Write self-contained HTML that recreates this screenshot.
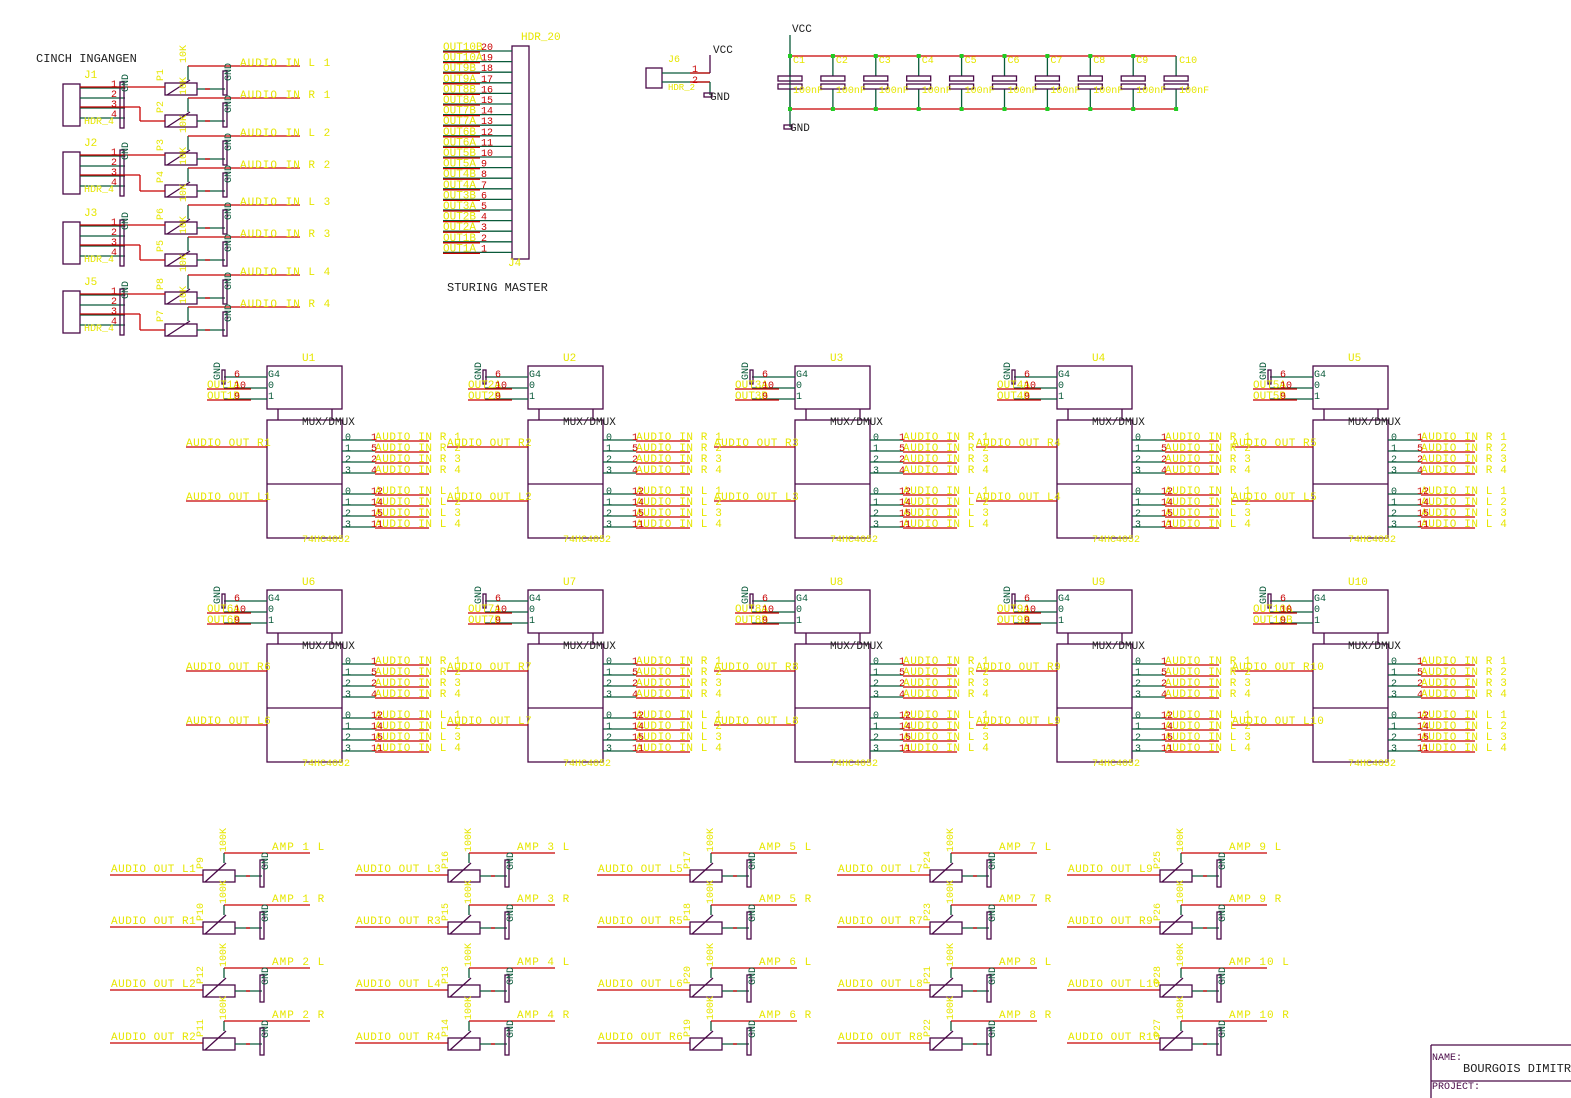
<!DOCTYPE html>
<html><head><meta charset="utf-8">
<style>
html,body{margin:0;padding:0;background:#fff;}
svg{display:block;}
text{font-family:"Liberation Mono","DejaVu Sans Mono",monospace;}
</style></head>
<body>
<svg id="s" width="1571" height="1098" viewBox="0 0 1571 1098" xmlns="http://www.w3.org/2000/svg">
<g id="g" fill="none" stroke-width="1.3"></g>
<g id="t"></g>
</svg>
<script>
var G=document.getElementById('g'),T=document.getElementById('t'),NS='http://www.w3.org/2000/svg';
var P='#4a0a48',R='#c80000',N='#0a5a3a',Y='#e6e600',K='#202020';
function L(x1,y1,x2,y2,c){var e=document.createElementNS(NS,'line');e.setAttribute('x1',x1);e.setAttribute('y1',y1);e.setAttribute('x2',x2);e.setAttribute('y2',y2);e.setAttribute('stroke',c);G.appendChild(e);}
function B(x,y,w,h,c,f){var e=document.createElementNS(NS,'rect');e.setAttribute('x',x);e.setAttribute('y',y);e.setAttribute('width',w);e.setAttribute('height',h);e.setAttribute('stroke',c);if(f)e.setAttribute('fill',f);G.appendChild(e);}
function X(x,y,s,c,sz,rot,ls){var e=document.createElementNS(NS,'text');e.setAttribute('x',x);e.setAttribute('y',y);e.setAttribute('fill',c);e.setAttribute('font-size',sz||11);if(ls)e.setAttribute('letter-spacing',ls);if(rot)e.setAttribute('transform','rotate(-90 '+x+' '+y+')');e.textContent=s;T.appendChild(e);}
function D(x,y,c){var e=document.createElementNS(NS,'rect');e.setAttribute('x',x-2);e.setAttribute('y',y-2);e.setAttribute('width',4);e.setAttribute('height',4);e.setAttribute('fill',c);G.appendChild(e);}
function gnd(x,y1,y2){B(x-2,y1,4,y2-y1,P);X(x+6,y1+10,'GND',N,10,true);}

X(36,62,'CINCH INGANGEN',K,12);
X(447,291,'STURING MASTER',K,12);

var jy=[84,152,222,291],jn=['J1','J2','J3','J5'];
var potY=[83,115,153,185,222,254,292,324],potN=['P1','P2','P3','P4','P6','P5','P8','P7'];
for(var i=0;i<4;i++){var y=jy[i];
 B(63,y,17,42,P);X(84,y-6,jn[i],Y,11);
 for(var k=0;k<4;k++){var py=y+4+k*10;L(80,py,125,py,N);X(111,py-1,''+(k+1),R,10);}
 X(84,y+40,'HDR_4',Y,10);
 gnd(122,y-2,y+44);
}
for(var i=0;i<8;i++){var y=potY[i],j=Math.floor(i/2),jy0=jy[j];
 B(165,y,32,12,P);L(167,y+12,190,y-3,P);L(188,y-3,188,y-17,N);L(188,y-17,300,y-17,R);
 L(197,y+6,225,y+6,N);L(205,y+6,210,y+6,R);gnd(225,y-12,y+12);
 X(163,y-2,potN[i],Y,10,true);X(186,y-20,'10K',Y,10,true);
 var lab=['AUDIO IN L ','AUDIO IN R '][i%2]+(j+1);X(240,y-17,lab,Y,11,false,'1');
 var sy=(i%2==0)?jy0+3:jy0+23;
 if(i%2==0){L(80,sy,165,sy,R);}else{L(80,sy,140,sy,R);L(140,sy,140,y+6,R);L(140,y+6,165,y+6,R);}
}

B(512,46,17,213,P);X(521,40,'HDR_20',Y,11);X(508,266,'J4',Y,11);
for(var k=0;k<20;k++){var y=49+k*10.6;L(443,y+2,512,y+2,N);L(443,y+3,480,y+3,R);
 var nm=['OUT10B','OUT10A','OUT9B','OUT9A','OUT8B','OUT8A','OUT7B','OUT7A','OUT6B','OUT6A','OUT5B','OUT5A','OUT4B','OUT4A','OUT3B','OUT3A','OUT2B','OUT2A','OUT1B','OUT1A'][k];
 X(443,y+1,nm,Y,11);X(481,y+1,''+(20-k),R,10);}

B(646,68,16,20,P);X(668,62,'J6',Y,10);X(668,90,'HDR_2',Y,9);
L(662,73,710,73,N);L(690,73,710,73,R);L(710,73,710,55,P);X(713,53,'VCC',K,11);
L(662,82,710,82,N);L(690,82,710,82,R);L(710,82,710,95,N);B(704,93,8,4,P);X(710,100,'GND',K,11);X(692,72,'1',R,10);X(692,83,'2',R,10);

L(790,35,790,127,N);X(792,32,'VCC',K,11);B(784,125,8,4,P);X(790,131,'GND',K,11);
L(790,56,1176,56,R);L(790,109,1176,109,R);
for(var c=0;c<10;c++){var x=790+c*42.9;L(x,56,x,76,N);L(x,89,x,109,N);B(x-12,76,24,5,P);B(x-12,84,24,5,P);
 if(c<9){D(x,56,'#22cc22');}D(x,109,'#22cc22');X(x+3,63,'C'+(c+1),Y,10);X(x+3,93,'100nF',Y,10);}

var mx=[267,528,795,1057,1313];
for(var r=0;r<2;r++)for(var c=0;c<5;c++){
 var x=mx[c],y=366+r*224,u=r*5+c+1;
 B(x,y,75,43,P);L(x+11,y+43,x+11,y+54,P);L(x+65,y+43,x+65,y+54,P);
 B(x,y+54,75,118,P);L(x,y+118,x+75,y+118,P);
 X(x+35,y-5,'U'+u,Y,11);X(x+35,y+59,'MUX/DMUX',K,11);X(x+35,y+176,'74HC4052',Y,10);
 L(x-43,y+11,x,y+11,N);L(x-43,y+22,x,y+22,N);L(x-43,y+33,x,y+33,N);
 B(x-45,y+4,3,14,P);X(x-47,y+14,'GND',N,10,true);
 L(x-60,y+23,x-16,y+23,R);L(x-60,y+34,x-16,y+34,R);
 X(x-60,y+22,'OUT'+u+'A',Y,11);X(x-60,y+33,'OUT'+u+'B',Y,11);
 X(x-33,y+11,'6',R,10);X(x-33,y+22,'10',R,10);X(x-33,y+33,'9',R,10);
 X(x+1,y+11,'G4',N,10);X(x+1,y+22,'0',N,10);X(x+1,y+33,'1',N,10);
 L(x-81,y+81,x,y+81,R);L(x-81,y+135,x,y+135,R);
 X(x-81,y+80,'AUDIO OUT R'+u,Y,11,false,'0.5');X(x-81,y+134,'AUDIO OUT L'+u,Y,11,false,'0.5');
 var pn1=['1','5','2','4'],pn2=['12','14','15','11'];
 for(var k=0;k<4;k++){var py=y+74+k*11;L(x+75,py,x+108,py,N);L(x+108,py+1,x+162,py+1,R);
  X(x+108,py,'AUDIO IN R '+(k+1),Y,11,false,'0.6');X(x+78,py,''+k,N,10);X(x+104,py,pn1[k],R,10);
  var qy=y+128+k*11;L(x+75,qy,x+108,qy,N);L(x+108,qy+1,x+162,qy+1,R);
  X(x+108,qy,'AUDIO IN L '+(k+1),Y,11,false,'0.6');X(x+78,qy,''+k,N,10);X(x+104,qy,pn2[k],R,10);}
}

var bx=[0,245,487,727,957],by=[875,927,990,1043];
var pnames=[['P9','P10','P12','P11'],['P16','P15','P13','P14'],['P17','P18','P20','P19'],['P24','P23','P21','P22'],['P25','P26','P28','P27']];
for(var c=0;c<5;c++)for(var r=0;r<4;r++){
 var o=bx[c],y=by[r],amp=c*2+Math.floor(r/2)+1,side=r%2?'R':'L';
 L(o+110,y,o+203,y,R);X(o+111,y-3,'AUDIO OUT '+side+amp,Y,11,false,'0.5');
 B(o+203,y-5,32,12,P);L(o+205,y+7,o+226,y-12,P);L(o+224,y-12,o+224,y-22,N);L(o+224,y-22,o+310,y-22,R);
 X(o+272,y-25,'AMP '+amp+' '+side,Y,11,false,'1');
 L(o+235,y+1,o+262,y+1,N);L(o+246,y+1,o+250,y+1,R);gnd(o+262,y-15,y+12);
 X(o+203,y-6,pnames[c][r],Y,10,true);X(o+226,y-23,'100K',Y,10,true);
}

L(1431,1045,1571,1045,P);L(1431,1045,1431,1098,P);L(1431,1081,1571,1081,P);
X(1432,1060,'NAME:',P,10);X(1463,1072,'BOURGOIS DIMITRI',K,12);X(1432,1089,'PROJECT:',P,10);
</script>
</body></html>
